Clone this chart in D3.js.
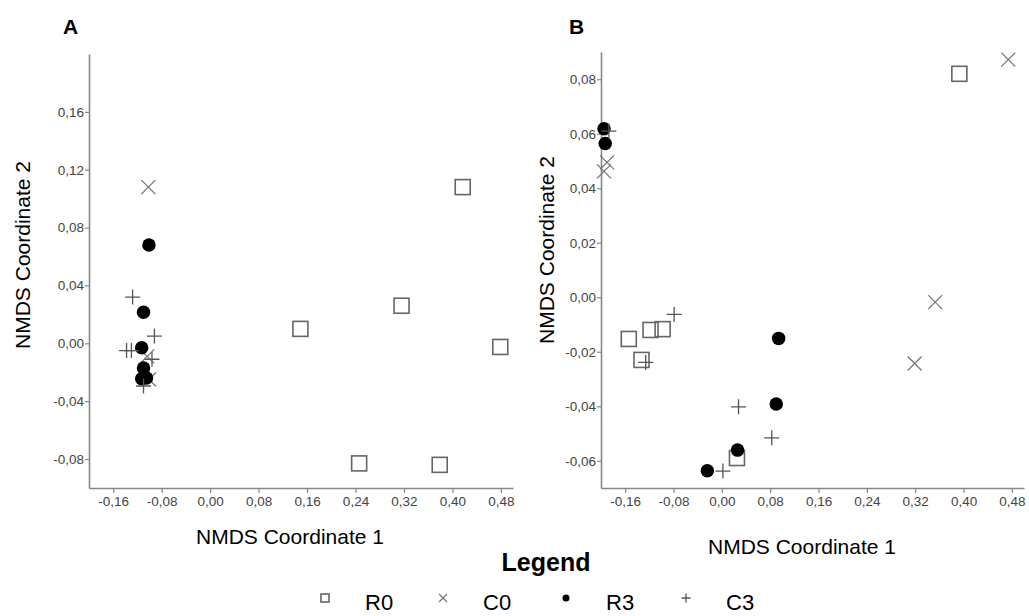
<!DOCTYPE html>
<html>
<head>
<meta charset="utf-8">
<script src="https://cdn.jsdelivr.net/npm/d3@7"></script>
<style>
  body { margin: 0; background: #fff; }
  svg { font-family: "Liberation Sans", Arial, sans-serif; }
</style>
</head>
<body>
<svg id="chart" width="1029" height="616"></svg>
<script>
// Valores
const groups = ['R0', 'C0', 'R3', 'C3'];

const xTicks = [-0.16, -0.08, 0.00, 0.08, 0.16, 0.24, 0.32, 0.40, 0.48];
const yTicksA = [-0.08, -0.04, 0.00, 0.04, 0.08, 0.12, 0.16];
const yTicksB = [-0.06, -0.04, -0.02, 0.00, 0.02, 0.04, 0.06, 0.08];

// Painel A
const r0A = [[0.149, 0.010], [0.316, 0.026], [0.417, 0.108], [0.479, -0.0025], [0.246, -0.083], [0.379, -0.084]];
const c0A = [[-0.102, 0.108], [-0.104, -0.009], [-0.101, -0.025]];
const r3A = [[-0.101, 0.068], [-0.110, 0.0215], [-0.113, -0.003], [-0.110, -0.017], [-0.113, -0.0245], [-0.105, -0.024]];
const c3A = [[-0.128, 0.032], [-0.092, 0.005], [-0.138, -0.005], [-0.130, -0.005], [-0.096, -0.011], [-0.110, -0.0295]];

// Painel B
const r0B = [[0.393, 0.082], [-0.154, -0.0153], [-0.118, -0.012], [-0.098, -0.0117], [-0.133, -0.023], [0.025, -0.059]];
const c0B = [[0.474, 0.0872], [0.353, -0.0018], [0.319, -0.0243], [-0.190, 0.0495], [-0.195, 0.0462]];
const r3B = [[-0.195, 0.0618], [-0.193, 0.0564], [0.094, -0.0151], [0.090, -0.0392], [0.026, -0.0561], [-0.024, -0.0637]];
const c3B = [[-0.187, 0.061], [-0.079, -0.0063], [-0.126, -0.0239], [0.0276, -0.0402], [0.0826, -0.0516], [0.0017, -0.0638]];

const svg = d3.select('#chart');

const fmt = d3.formatLocale({decimal: ',', thousands: '.', grouping: [3], currency: ['', ''], minus: '-'}).format('.2f');

function drawMarker(g, type, x, y, s) {
    if (type === 'R0') {
        g.append('rect')
            .attr('x', x - s / 2).attr('y', y - s / 2)
            .attr('width', s).attr('height', s)
            .attr('fill', 'none')
            .attr('stroke', '#666')
            .attr('stroke-width', 1.6);
    } else if (type === 'C0') {
        const h = s / 2;
        g.append('path')
            .attr('d', `M${x - h},${y - h}L${x + h},${y + h}M${x - h},${y + h}L${x + h},${y - h}`)
            .attr('stroke', '#777')
            .attr('stroke-width', 1.3)
            .attr('fill', 'none');
    } else if (type === 'R3') {
        g.append('circle')
            .attr('cx', x).attr('cy', y)
            .attr('r', s / 2)
            .attr('fill', '#000');
    } else {
        const h = s / 2;
        g.append('path')
            .attr('d', `M${x - h},${y}L${x + h},${y}M${x},${y - h}L${x},${y + h}`)
            .attr('stroke', '#555')
            .attr('stroke-width', 1.3)
            .attr('fill', 'none');
    }
}

const markerSize = {R0: 15, C0: 14, R3: 13.5, C3: 15};

function drawPanel(cfg) {
    const g = svg.append('g');

    const x = d3.scaleLinear().domain([-0.20, 0.50]).range([cfg.left, cfg.right]);
    const y = d3.scaleLinear().domain(cfg.yDomain).range([cfg.bottom, cfg.top]);

    const xAxis = g.append('g')
        .attr('transform', `translate(0,${cfg.bottom})`)
        .call(d3.axisBottom(x).tickValues(xTicks).tickFormat(fmt).tickSize(5).tickSizeOuter(0).tickPadding(3));

    const yAxis = g.append('g')
        .attr('transform', `translate(${cfg.left},0)`)
        .call(d3.axisLeft(y).tickValues(cfg.yTicks).tickFormat(fmt).tickSize(4).tickSizeOuter(0).tickPadding(1));

    [xAxis, yAxis].forEach(a => {
        a.select('.domain').attr('stroke', '#888').attr('stroke-width', 1.6);
        a.selectAll('.tick line').attr('stroke', '#888').attr('stroke-width', 1.2);
        a.selectAll('.tick text')
            .attr('fill', '#444')
            .style('font-size', '13.5px')
            .style('font-family', '"Liberation Sans", Arial, sans-serif');
    });

    // Pontos
    cfg.series.forEach((pts, i) => {
        const type = groups[i];
        pts.forEach(p => drawMarker(g, type, x(p[0]), y(p[1]), markerSize[type]));
    });

    // Letra do painel
    g.append('text')
        .attr('x', cfg.letterX).attr('y', 34)
        .attr('font-weight', 'bold')
        .style('font-size', '21px')
        .text(cfg.letter);

    // Títulos dos eixos
    g.append('text')
        .attr('x', cfg.xLabelX)
        .attr('y', cfg.xLabelY)
        .attr('text-anchor', 'middle')
        .style('font-size', '21px')
        .text('NMDS Coordinate 1');

    g.append('text')
        .attr('transform', `translate(${cfg.yLabelX},${cfg.yLabelY}) rotate(-90)`)
        .attr('text-anchor', 'middle')
        .style('font-size', '21px')
        .text('NMDS Coordinate 2');
}

drawPanel({
    letter: 'A', letterX: 63,
    left: 89, right: 513, top: 54, bottom: 488,
    yDomain: [-0.10, 0.20], yTicks: yTicksA,
    series: [r0A, c0A, r3A, c3A],
    xLabelX: 290, xLabelY: 544,
    yLabelX: 30, yLabelY: 255
});

drawPanel({
    letter: 'B', letterX: 569,
    left: 601, right: 1024, top: 52, bottom: 488,
    yDomain: [-0.07, 0.09], yTicks: yTicksB,
    series: [r0B, c0B, r3B, c3B],
    xLabelX: 802, xLabelY: 554,
    yLabelX: 554, yLabelY: 250
});

// Legenda
svg.append('text')
    .attr('x', 546).attr('y', 571)
    .attr('text-anchor', 'middle')
    .attr('font-weight', 'bold')
    .style('font-size', '25px')
    .text('Legend');

const legendX = [325, 443, 566, 686];
const legendSize = {R0: 8, C0: 8, R3: 7, C3: 9};
const legend = svg.append('g');
groups.forEach((grp, i) => {
    drawMarker(legend, grp, legendX[i], 598, legendSize[grp]);
    legend.append('text')
        .attr('x', legendX[i] + 40)
        .attr('y', 610)
        .style('font-size', '22px')
        .text(grp);
});
</script>
</body>
</html>
